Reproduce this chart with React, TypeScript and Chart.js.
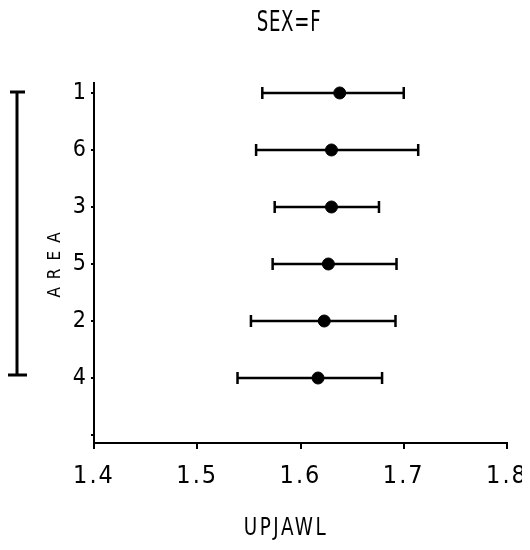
import React, { useEffect, useRef } from "react";
import { Chart, registerables } from "chart.js";
Chart.register(...registerables);

const TITLE = "SEX=F";
const X_TITLE = "UPJAWL";
const Y_TITLE = "AREA";
const areas = ["1", "6", "3", "5", "2", "4"];
const means = [1.638, 1.63, 1.63, 1.627, 1.623, 1.617];
const lower = [1.563, 1.557, 1.575, 1.573, 1.552, 1.539];
const upper = [1.7, 1.714, 1.676, 1.693, 1.692, 1.679];
const xTicks = [1.4, 1.5, 1.6, 1.7, 1.8];

const FONT = "'DejaVu Sans Condensed', 'Liberation Sans Narrow', 'Liberation Sans', sans-serif";

const W = 530;
const H = 550;

const errorBarPlugin = {
  id: "errorBars",
  beforeDraw(chart: any) {
    (chart.ctx as any).letterSpacing = "2px";
  },
  beforeDatasetsDraw(chart: any) {
    const { ctx, scales } = chart;
    const x = scales.x;
    const y = scales.y;
    ctx.save();
    ctx.strokeStyle = "#000";
    ctx.lineWidth = 2.5;
    ctx.lineCap = "butt";
    areas.forEach((_, i) => {
      const py = y.getPixelForValue(i + 1);
      const x1 = x.getPixelForValue(lower[i]);
      const x2 = x.getPixelForValue(upper[i]);
      ctx.beginPath();
      ctx.moveTo(x1, py);
      ctx.lineTo(x2, py);
      ctx.moveTo(x1, py - 6);
      ctx.lineTo(x1, py + 6);
      ctx.moveTo(x2, py - 6);
      ctx.lineTo(x2, py + 6);
      ctx.stroke();
    });
    ctx.restore();
  },
  afterDraw(chart: any) {
    const { ctx, scales, chartArea } = chart;
    const y = scales.y;
    ctx.save();
    ctx.fillStyle = "#000";
    ctx.strokeStyle = "#000";
    ctx.textAlign = "center";
    ctx.textBaseline = "middle";
    // title (condensed)
    ctx.save();
    ctx.translate(289, 24);
    ctx.scale(0.72, 1);
    ctx.letterSpacing = "1px";
    ctx.font = `28px ${FONT}`;
    ctx.fillText(TITLE, 0, 0);
    ctx.restore();
    // x title
    ctx.save();
    ctx.translate(286, 529);
    ctx.scale(0.85, 1);
    ctx.letterSpacing = "3px";
    ctx.font = `24px ${FONT}`;
    ctx.fillText(X_TITLE, 0, 0);
    ctx.restore();
    // y title
    ctx.save();
    ctx.translate(56, (chartArea.top + chartArea.bottom) / 2 + 2);
    ctx.rotate(-Math.PI / 2);
    ctx.letterSpacing = "8px";
    ctx.font = `17px ${FONT}`;
    ctx.fillText(Y_TITLE, 4, 0);
    ctx.restore();
    // left bar
    const top = y.getPixelForValue(1) - 1;
    const bot = y.getPixelForValue(areas.length) - 3;
    ctx.lineWidth = 3;
    ctx.beginPath();
    ctx.moveTo(17, top);
    ctx.lineTo(17, bot);
    ctx.moveTo(10, top);
    ctx.lineTo(25, top);
    ctx.moveTo(8, bot);
    ctx.lineTo(27, bot);
    ctx.stroke();
    ctx.restore();
    (ctx as any).letterSpacing = "0px";
  },
};

export default function App() {
  const ref = useRef<HTMLCanvasElement | null>(null);
  useEffect(() => {
    if (!ref.current) return;
    const chart = new Chart(ref.current, {
      type: "scatter",
      data: {
        datasets: [
          {
            data: means.map((m, i) => ({ x: m, y: i + 1 })),
            backgroundColor: "#000",
            borderColor: "#000",
            pointRadius: 6,
            pointHoverRadius: 6,
          },
        ],
      },
      options: {
        responsive: false,
        animation: false,
        events: [],
        layout: { padding: { left: 0, right: 23, top: 83, bottom: 0 } },
        plugins: { legend: { display: false }, tooltip: { enabled: false }, title: { display: false } },
        scales: {
          x: {
            type: "linear",
            min: 1.4,
            max: 1.8,
            afterBuildTicks: (s: any) => {
              s.ticks = xTicks.map((v) => ({ value: v }));
            },
            afterFit: (s: any) => {
              s.height = 107;
              s.paddingLeft = 0;
              s.paddingRight = 0;
            },
            ticks: {
              color: "#000",
              font: { family: FONT, size: 25 },
              padding: 12,
              maxRotation: 0,
              callback: (v: any) => Number(v).toFixed(1),
            },
            grid: { drawOnChartArea: false, drawTicks: true, tickLength: 6, color: "#000", lineWidth: 2 },
            border: { display: true, color: "#000", width: 2 },
          },
          y: {
            type: "linear",
            reverse: true,
            min: 0.825,
            max: 7.14,
            afterBuildTicks: (s: any) => {
              s.ticks = [1, 2, 3, 4, 5, 6, 7].map((v) => ({ value: v }));
            },
            afterFit: (s: any) => {
              s.width = 94;
              s.paddingTop = 0;
              s.paddingBottom = 0;
            },
            ticks: {
              color: "#000",
              font: { family: FONT, size: 23 },
              padding: 3,
              callback: (v: any) => areas[Number(v) - 1] ?? "",
            },
            grid: { drawOnChartArea: false, drawTicks: true, tickLength: 3, color: "#000", lineWidth: 2 },
            border: { display: true, color: "#000", width: 2 },
          },
        },
      },
      plugins: [errorBarPlugin],
    });
    return () => chart.destroy();
  }, []);
  return (
    <canvas
      ref={ref}
      width={W}
      height={H}
      style={{ display: "block", width: W, height: H, margin: -8 }}
    />
  );
}
